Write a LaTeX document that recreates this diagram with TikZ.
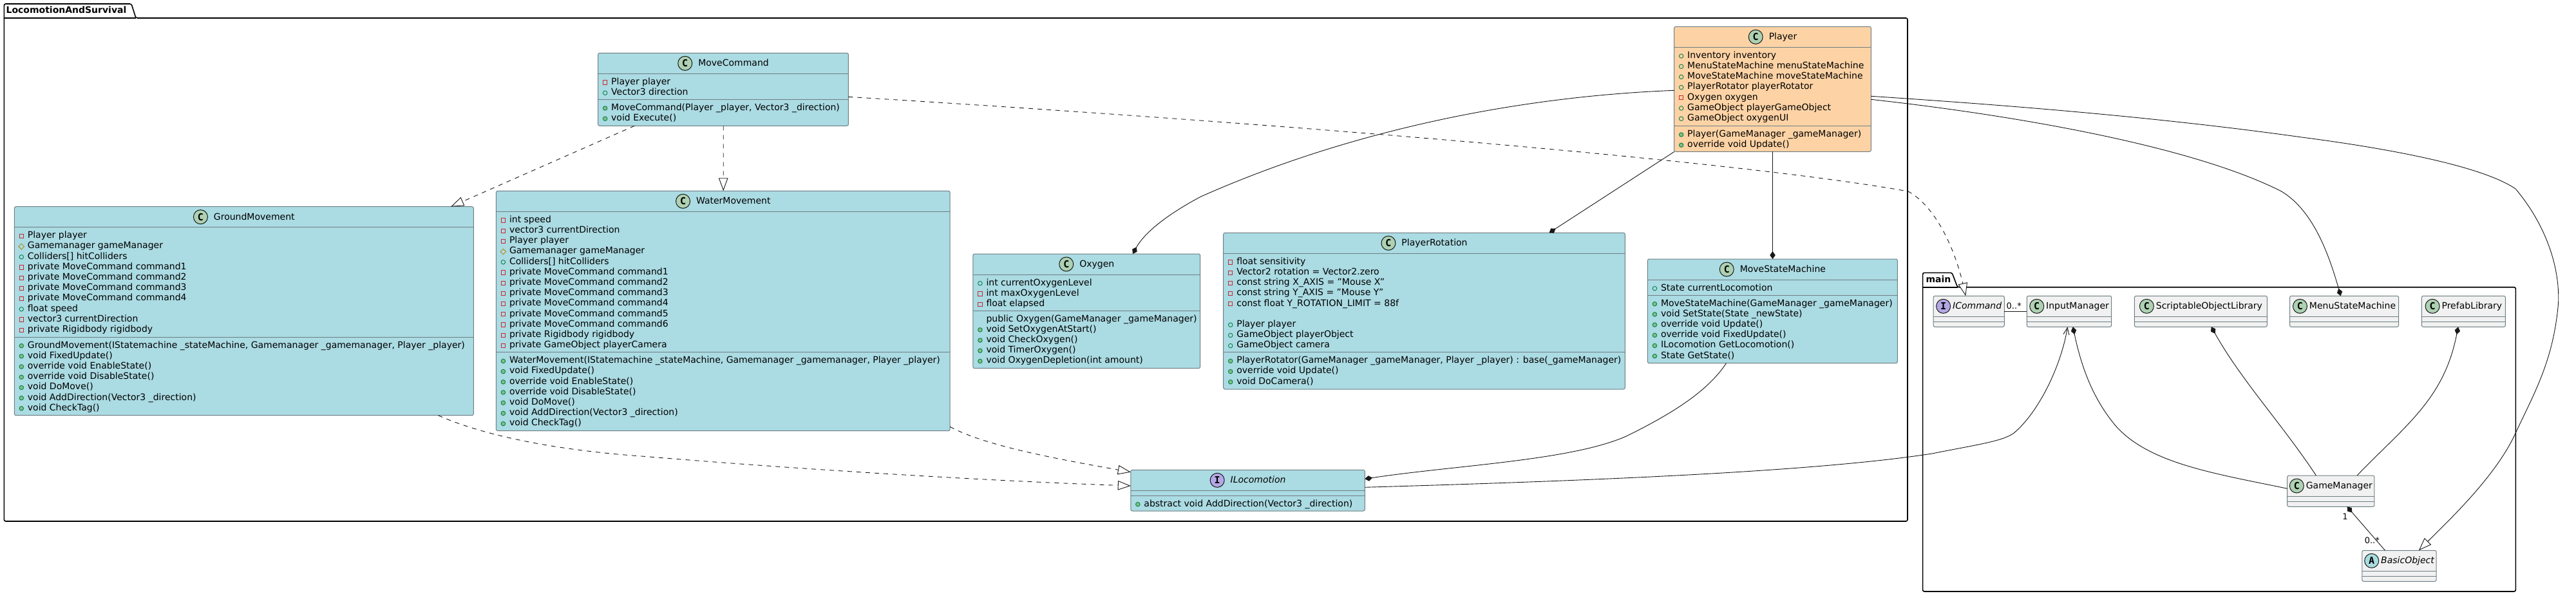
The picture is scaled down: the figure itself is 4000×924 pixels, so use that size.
\documentclass[tikz,border=0pt]{standalone}
\usepackage{fontspec}
\setmainfont{DejaVu Sans}
\newfontfamily\umliconfont{DejaVu Sans Mono}
\usetikzlibrary{arrows.meta,calc,shapes.geometric}
\definecolor{boxblue}{HTML}{ABDBE3}
\definecolor{boxorange}{HTML}{FDD3A5}
\definecolor{boxgrey}{HTML}{F1F1F1}
\definecolor{bordergrey}{HTML}{6F7F84}
\definecolor{iconC}{HTML}{ADD1B2}
\definecolor{iconI}{HTML}{B4A7E5}
\definecolor{iconA}{HTML}{A9DCDF}
\definecolor{linecol}{HTML}{181818}
\definecolor{pubcol}{HTML}{038048}
\definecolor{pubfill}{HTML}{84BE84}
\definecolor{privcol}{HTML}{C82930}
\definecolor{protcol}{HTML}{B38D22}
\tikzset{
  x=1pt,y=-1pt,
  classnode/.style={draw=bordergrey,line width=1pt,rounded corners=2.5pt,inner sep=0pt,outer sep=0pt},
  classsep/.style={draw=bordergrey,line width=1pt},
  titletext/.style={inner sep=0pt,outer sep=0pt,anchor=base,font=\fontsize{14}{16}\selectfont},
  rowtext/.style={inner sep=0pt,outer sep=0pt,anchor=base west,font=\fontsize{14}{16}\selectfont},
  lettericon/.style={draw=linecol,line width=1pt,circle,inner sep=0pt,minimum size=22pt,font=\fontsize{15}{16}\umliconfont\bfseries\selectfont},
  pubfield/.style={draw=pubcol,line width=.9pt,circle,inner sep=0pt,minimum size=6.5pt},
  pubmethod/.style={draw=pubcol,fill=pubfill,line width=.9pt,circle,inner sep=0pt,minimum size=6.5pt},
  privfield/.style={draw=privcol,line width=.9pt,rectangle,inner sep=0pt,minimum size=6.2pt},
  protfield/.style={draw=protcol,line width=.9pt,diamond,aspect=1,inner sep=0pt,minimum size=9pt},
  noicon/.style={inner sep=0pt,minimum size=1pt},
  pkgline/.style={draw=black,line width=1.6pt,rounded corners=2.5pt},
  pkgtitle/.style={inner sep=0pt,outer sep=0pt,anchor=base west,font=\fontsize{14}{16}\bfseries\selectfont},
  multlabel/.style={inner sep=0pt,outer sep=0pt,anchor=base,font=\fontsize{13}{15}\selectfont},
  umlline/.style={draw=linecol,line width=.9pt},
  umlreal/.style={umlline,dash pattern=on 7pt off 7pt,-{Triangle[open,fill=white,length=20pt,width=14.5pt]}},
  umlcomp/.style={umlline,-{Diamond[length=12pt,width=8.5pt,fill=linecol]}},
  umlnav/.style={umlline,-{Straight Barb[length=11pt,width=9pt]}},
}
\newcounter{umlrowc}
\newcommand\pin[3]{($(#1.north west)+(#2,#3)$)}
\newcommand\rowsat[2]{\def\umlrowx{#1}\def\umlrowy{#2}}
\newcommand\urow[2]{%
  \stepcounter{umlrowc}%
  \node[#1] (ic\theumlrowc) at (\umlrowx+11,\umlrowy+9.7) {};
  \node[rowtext] (tx\theumlrowc) at (\umlrowx+20.6,\umlrowy+13) {#2};
  \pgfmathsetmacro\umlrowy{\umlrowy+16.2}}
\newcommand\ufp[1]{\urow{pubfield}{#1}}
\newcommand\ufm[1]{\urow{pubmethod}{#1}}
\newcommand\ufr[1]{\urow{privfield}{#1}}
\newcommand\ufd[1]{\urow{protfield}{#1}}
\newcommand\ufn[1]{\urow{noicon}{#1}}
\newcommand\ufb{\pgfmathsetmacro\umlrowy{\umlrowy+16.2}}
\def\umlgap{9}
% name, left, top, right, bottom, fill, second separator y, letter, title
\newcommand\umlclass[9]{%
  \node[classnode,fill=#6,anchor=north west,minimum width={#4pt-#2pt},minimum height={#5pt-#3pt}] (#1) at (#2,#3) {};
  \draw[classsep] (#1.west |- 0,#3+32) -- (#1.east |- 0,#3+32);
  \draw[classsep] (#1.west |- 0,#7) -- (#1.east |- 0,#7);
  \node[titletext] (#1-title) at ({(#2+#4)/2+(23+\umlgap)/2},#3+20.6) {#9};
  \node[lettericon,fill=icon#8] (#1-icon) at ([xshift={-(\umlgap+11.5)*1pt}]#1-title.west |- 0,#3+16) {#8};
}
\begin{document}
\begin{tikzpicture}
\useasboundingbox (0,0) rectangle (4000,924);
\fill[white] (0,0) rectangle (4000,924);

% packages
\draw[pkgline] (211,28) -- (2962,28) -- (2962,809) -- (6.4,809) -- (6.4,6) -- (204,6) -- cycle;
\draw[draw=black,line width=1.6pt] (6.4,28) -- (211,28);
\node[pkgtitle] (pkgLocomotion) at (9.6,20.7) {LocomotionAndSurvival};
\draw[pkgline] (3039.6,445.7) -- (3906.3,445.7) -- (3906.3,918) -- (2985.6,918) -- (2985.6,423.3) -- (3031,423.3) -- cycle;
\draw[draw=black,line width=1.6pt] (2985.6,445.7) -- (3039.6,445.7);
\node[pkgtitle] (pkgMain) at (2990.5,438) {main};

% MoveCommand
\umlclass{MoveCommand}{928.6}{82.3}{1317.4}{195.3}{boxblue}{154.3}{C}{MoveCommand}
\rowsat{928.6}{118.3}
\ufr{Player player}
\ufp{Vector3 direction}
\rowsat{928.6}{158.3}
\ufm{MoveCommand(Player \_player, Vector3 \_direction)}
\ufm{void Execute()}

% GroundMovement
\umlclass{GroundMovement}{22.3}{320.7}{735.3}{644.7}{boxblue}{523}{C}{GroundMovement}
\rowsat{22.3}{356.7}
\ufr{Player player}
\ufd{Gamemanager gameManager}
\ufp{Colliders[] hitColliders}
\ufr{private MoveCommand command1}
\ufr{private MoveCommand command2}
\ufr{private MoveCommand command3}
\ufr{private MoveCommand command4}
\ufp{float speed}
\ufr{vector3 currentDirection}
\ufr{private Rigidbody rigidbody}
\rowsat{22.3}{527}
\ufm{GroundMovement(IStatemachine \_stateMachine, Gamemanager \_gamemanager, Player \_player)}
\ufm{void FixedUpdate()}
\ufm{override void EnableState()}
\ufm{override void DisableState()}
\ufm{void DoMove()}
\ufm{void AddDirection(Vector3 \_direction)}
\ufm{void CheckTag()}

% WaterMovement
\umlclass{WaterMovement}{770.4}{296.3}{1475.2}{668.7}{boxblue}{546.7}{C}{WaterMovement}
\rowsat{770.4}{332.3}
\ufr{int speed}
\ufr{vector3 currentDirection}
\ufr{Player player}
\ufd{Gamemanager gameManager}
\ufp{Colliders[] hitColliders}
\ufr{private MoveCommand command1}
\ufr{private MoveCommand command2}
\ufr{private MoveCommand command3}
\ufr{private MoveCommand command4}
\ufr{private MoveCommand command5}
\ufr{private MoveCommand command6}
\ufr{private Rigidbody rigidbody}
\ufr{private GameObject playerCamera}
\rowsat{770.4}{550.7}
\ufm{WaterMovement(IStatemachine \_stateMachine, Gamemanager \_gamemanager, Player \_player)}
\ufm{void FixedUpdate()}
\ufm{override void EnableState()}
\ufm{override void DisableState()}
\ufm{void DoMove()}
\ufm{void AddDirection(Vector3 \_direction)}
\ufm{void CheckTag()}

% Oxygen
\umlclass{Oxygen}{1510.9}{394}{1863.6}{571.7}{boxblue}{482}{C}{Oxygen}
\rowsat{1510.9}{430}
\ufp{int currentOxygenLevel}
\ufr{int maxOxygenLevel}
\ufr{float elapsed}
\rowsat{1510.9}{486}
\ufn{public Oxygen(GameManager \_gameManager)}
\ufm{void SetOxygenAtStart()}
\ufm{void CheckOxygen()}
\ufm{void TimerOxygen()}
\ufm{void OxygenDepletion(int amount)}

% PlayerRotation
\umlclass{PlayerRotation}{1899.7}{361.3}{2523.3}{604}{boxblue}{546.7}{C}{PlayerRotation}
\rowsat{1899.7}{397.3}
\ufr{float sensitivity}
\ufr{Vector2 rotation = Vector2.zero}
\ufr{const string X\_AXIS = "Mouse X"}
\ufr{const string Y\_AXIS = "Mouse Y"}
\ufr{const float Y\_ROTATION\_LIMIT = 88f}
\ufb
\ufp{Player player}
\ufp{GameObject playerObject}
\ufp{GameObject camera}
\rowsat{1899.7}{550.7}
\ufm{PlayerRotator(GameManager \_gameManager, Player \_player) : base(\_gameManager)}
\ufm{override void Update()}
\ufm{void DoCamera()}

% MoveStateMachine
\umlclass{MoveStateMachine}{2558.4}{402}{2946.3}{563.7}{boxblue}{458}{C}{MoveStateMachine}
\rowsat{2558.4}{438}
\ufp{State currentLocomotion}
\rowsat{2558.4}{462}
\ufm{MoveStateMachine(GameManager \_gameManager)}
\ufm{void SetState(State \_newState)}
\ufm{override void Update()}
\ufm{override void FixedUpdate()}
\ufm{ILocomotion GetLocomotion()}
\ufm{State GetState()}

% ILocomotion
\umlclass{ILocomotion}{1755.8}{729.3}{2119.3}{793}{boxblue}{769}{I}{\itshape ILocomotion}
\rowsat{1755.8}{773}
\ufm{abstract void AddDirection(Vector3 \_direction)}

% Player
\umlclass{Player}{2599.6}{41.3}{2905.4}{235.3}{boxorange}{195.3}{C}{Player}
\rowsat{2599.6}{77.3}
\ufp{Inventory inventory}
\ufp{MenuStateMachine menuStateMachine}
\ufp{MoveStateMachine moveStateMachine}
\ufp{PlayerRotator playerRotator}
\ufr{Oxygen oxygen}
\ufp{GameObject playerGameObject}
\ufp{GameObject oxygenUI}
\rowsat{2599.6}{199.3}
\ufm{Player(GameManager \_gameManager)}
\ufm{override void Update()}

% main package classes
\def\umlgap{3}
\umlclass{ICommand}{3002}{459.3}{3112.3}{507.3}{boxgrey}{499.3}{I}{\itshape ICommand}
\umlclass{InputManager}{3147.3}{459.3}{3278.7}{507.3}{boxgrey}{499.3}{C}{InputManager}
\umlclass{ScriptableObjectLibrary}{3314.4}{459.3}{3520.4}{507.3}{boxgrey}{499.3}{C}{ScriptableObjectLibrary}
\umlclass{MenuStateMachine}{3555.5}{459.3}{3724.5}{507.3}{boxgrey}{499.3}{C}{MenuStateMachine}
\umlclass{PrefabLibrary}{3760.3}{459.3}{3890.4}{507.3}{boxgrey}{499.3}{C}{PrefabLibrary}
\umlclass{GameManager}{3551.7}{738}{3686.9}{786.3}{boxgrey}{778.3}{C}{GameManager}
\umlclass{BasicObject}{3667.8}{854.3}{3783.2}{902.3}{boxgrey}{894.3}{A}{\itshape BasicObject}

% connectors: realisations
\draw[umlreal] \pin{MoveCommand}{56.7}{113} -- \pin{GroundMovement}{677.9}{0};
\draw[umlreal] \pin{MoveCommand}{194.6}{113} -- \pin{WaterMovement}{352.8}{0};
\draw[umlreal] \pin{MoveCommand}{388.8}{68} .. controls (2000,192) and (2700,250) .. (2963,297) .. controls (3005,320) and (3035,385) .. \pin{ICommand}{50.3}{0};
\draw[umlreal] \pin{GroundMovement}{658.2}{324} .. controls (760,680) and (880,700) .. (1000,708.3) .. controls (1200,725) and (1500,745) .. \pin{ILocomotion}{0}{24.7};
\draw[umlreal] \pin{WaterMovement}{704.8}{366} .. controls (1530,692) and (1640,712) .. \pin{ILocomotion}{0}{3.4};

% connectors: compositions from Player
\draw[umlcomp] \pin{Player}{0}{99} .. controls (2350,150) and (2090,205) .. (1865,305) .. controls (1825,326) and (1780,356) .. \pin{Oxygen}{248.1}{0};
\draw[umlcomp] \pin{Player}{0.4}{194} -- \pin{PlayerRotation}{505.8}{0};
\draw[umlcomp] \pin{Player}{152.9}{194} -- \pin{MoveStateMachine}{194.1}{0};
\draw[umlcomp] \pin{Player}{305.8}{113} .. controls (3120,178) and (3400,225) .. (3542,296.7) .. controls (3590,325) and (3615,390) .. \pin{MenuStateMachine}{79.1}{0};
\draw[umlreal,dash pattern=] \pin{Player}{305.8}{108} .. controls (3130,164) and (3360,183) .. (3574,213) .. controls (3690,228) and (3850,255) .. (3906,293) .. controls (3950,345) and (3975,410) .. (3972.6,470) .. controls (3965,560) and (3935,610) .. (3905.7,673) .. controls (3875,740) and (3800,810) .. \pin{BasicObject}{88}{0};

% other connectors
\draw[umlcomp] \pin{MoveStateMachine}{122.1}{161.7} .. controls (2650,610) and (2590,645) .. (2526,676.7) .. controls (2440,715) and (2260,722) .. \pin{ILocomotion}{363.5}{14};
\draw[umlnav] \pin{ILocomotion}{363.5}{27} .. controls (2400,748) and (2800,735) .. (3000,704) .. controls (3070,690) and (3110,685) .. (3127.6,671.7) .. controls (3165,640) and (3200,570) .. \pin{InputManager}{63.2}{48};
\draw[umlcomp] \pin{GameManager}{0}{20.3} .. controls (3440,735) and (3340,720) .. (3287,663) .. controls (3250,620) and (3232,570) .. \pin{InputManager}{71.5}{48};
\draw[umlcomp] \pin{GameManager}{44.7}{0} .. controls (3545,660) and (3480,590) .. \pin{ScriptableObjectLibrary}{119.3}{48};
\draw[umlcomp] \pin{GameManager}{108.3}{0} .. controls (3735,660) and (3795,620) .. \pin{PrefabLibrary}{56.7}{48};
\draw[umlcomp] \pin{BasicObject}{35.7}{0} -- \pin{GameManager}{92.8}{48.3};
\draw[umlline] \pin{ICommand}{110.3}{24} -- \pin{InputManager}{0}{24};

% multiplicities
\node[multlabel] (multA) at (3127.2,479) {0..*};
\node[multlabel] (multB) at (3641.5,806) {1};
\node[multlabel] (multC) at (3683.3,843.3) {0..*};
\end{tikzpicture}
\end{document}
